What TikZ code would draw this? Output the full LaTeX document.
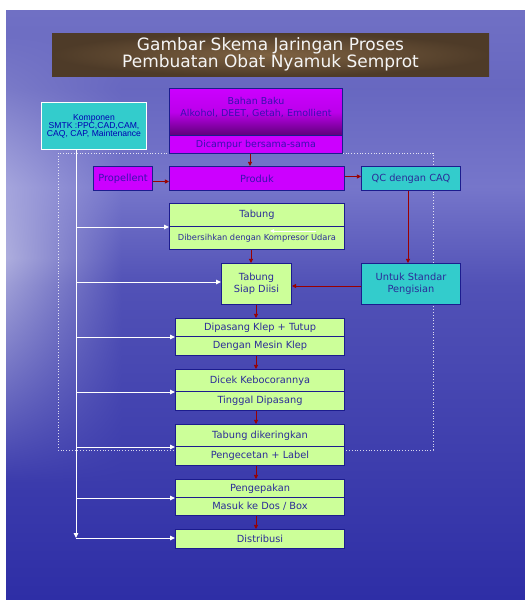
\documentclass[tikz,border=0pt]{standalone}
\usepackage{fontspec}
\setmainfont{DejaVu Sans}
\newfontfamily\arialf{Liberation Sans}
\usetikzlibrary{arrows.meta,calc}
\definecolor{brownA}{HTML}{7E6242}
\definecolor{brownB}{HTML}{4E3B28}
\definecolor{greenc}{HTML}{CCFF99}
\definecolor{magc}{HTML}{CC00FF}
\definecolor{magdark}{HTML}{5E0078}
\definecolor{cyanc}{HTML}{33CCCC}
\definecolor{bordc}{HTML}{1C1C8E}
\definecolor{txtc}{HTML}{2B2B98}
\definecolor{magtxt}{HTML}{3A10B0}
\definecolor{arrred}{HTML}{990000}
\pgfdeclarefunctionalshading{bgsh}{\pgfpoint{0bp}{0bp}}{\pgfpoint{100bp}{100bp}}{}{
  25 sub 50 div exch 25 sub 50 div exch
  1 index 4.5 mul 1 exch sub dup abs add 2 div
  1 index 0.58 sub abs 0.38 div 1 exch sub dup abs add 2 div
  mul 0.5 mul
  1 index 0.26 mul 0.18 add
  2 index 0.70 sub abs 6 mul 1 exch sub dup abs add 2 div 0.10 mul add
  dup 1 exch sub 2 index mul add
  2 index 0.12 mul 0.65 add
  3 index 0.70 sub abs 6 mul 1 exch sub dup abs add 2 div 0.06 mul add
  dup 1 exch sub 3 index mul add
  exch dup 3 2 roll
  6 3 roll pop pop pop
}
\begin{document}
\begin{tikzpicture}[x=1pt,y=-1pt,
  box/.style={draw=bordc, line width=1pt, text=txtc, inner sep=0pt, anchor=north west,
    font=\fontsize{9.8}{12}\selectfont, align=center},
  gbox/.style={box, fill=greenc},
  mbox/.style={box, fill=magc, text=magtxt},
  cbox/.style={box, fill=cyanc},
  rarr/.style={draw=arrred, line width=0.9pt, -{Triangle[width=4.2pt,length=4.2pt]}},
  warr/.style={draw=white, line width=1pt, -{Triangle[width=4.5pt,length=5pt]}}
]
\useasboundingbox (0,0) rectangle (525,600);
% background
\shade[shading=bgsh] (6,10) rectangle (525,600);
% title
\node[inner sep=0pt, minimum width=437pt, minimum height=43pt, inner color=brownA, outer color=brownB,
  text=white!92!gray, font=\fontsize{17}{16}\selectfont, align=center] (title) at (270.5,54.5)
  {Gambar Skema Jaringan Proses\\Pembuatan Obat Nyamuk Semprot};
% dotted frame
\draw[white, dotted, line width=0.8pt, opacity=0.8] (58,153) rectangle (433,450);
% komponen
\node[box, fill=cyanc, draw=white, text=blue!70!black, minimum width=105pt, minimum height=47pt,
  font=\arialf\fontsize{8.6}{8}\selectfont] (komp) at (41,102)
  {Komponen\\SMTK :PPC,CAD,CAM,\\CAQ, CAP, Maintenance};
% top process
\node[box, top color=magc, bottom color=magdark, middle color=magc!85!magdark, text=magtxt,
  minimum width=173pt, minimum height=47pt,
  label={[text=magtxt, font=\fontsize{9.5}{12}\selectfont, align=center, yshift=5pt]center:{Bahan Baku\\Alkohol, DEET, Getah, Emollient}}] (bahan) at (169,88) {};
\node[mbox, minimum width=173pt, minimum height=18pt, font=\fontsize{9.5}{12}\selectfont] (dic) at (169,135) {Dicampur bersama-sama};
\node[mbox, minimum width=59pt, minimum height=24pt] (prop) at (93,166) {Propellent};
\node[mbox, minimum width=175pt, minimum height=24pt] (prod) at (169,166) {Produk};
\node[cbox, minimum width=99pt, minimum height=24pt] (qc) at (361,166) {QC dengan CAQ};
\node[gbox, minimum width=175pt, minimum height=23pt] (tabA) at (169,203) {Tabung};
\node[gbox, minimum width=175pt, minimum height=23pt, font=\fontsize{8.3}{10}\selectfont] (tabB) at (169,226) {Dibersihkan dengan Kompresor Udara};
\node[gbox, minimum width=70pt, minimum height=41pt] (tsd) at (221,263) {Tabung\\Siap Diisi};
\node[cbox, minimum width=99pt, minimum height=41pt] (usp) at (361,263) {Untuk Standar\\Pengisian};
\node[gbox, minimum width=169pt, minimum height=18pt] (dipA) at (175,318) {Dipasang Klep + Tutup};
\node[gbox, minimum width=169pt, minimum height=19pt] (dipB) at (175,336) {Dengan Mesin Klep};
\node[gbox, minimum width=169pt, minimum height=22pt] (cekA) at (175,369) {Dicek Kebocorannya};
\node[gbox, minimum width=169pt, minimum height=19pt] (cekB) at (175,391) {Tinggal Dipasang};
\node[gbox, minimum width=169pt, minimum height=22pt] (kerA) at (175,424) {Tabung dikeringkan};
\node[gbox, minimum width=169pt, minimum height=19pt] (kerB) at (175,446) {Pengecetan + Label};
\node[gbox, minimum width=169pt, minimum height=18pt] (pekA) at (175,479) {Pengepakan};
\node[gbox, minimum width=169pt, minimum height=18pt] (pekB) at (175,497) {Masuk ke Dos / Box};
\node[gbox, minimum width=169pt, minimum height=19pt] (dist) at (175,529) {Distribusi};
% small white arrow inside Tabung box
\draw[draw=white, line width=0.7pt, -{Triangle[width=3.5pt,length=4pt]}] ([xshift=-29pt,yshift=-5pt]tabB.north east) -- ([xshift=-75pt,yshift=-5pt]tabB.north east);
% red arrows
\draw[rarr] ([xshift=-6pt]dic.south) -- ([xshift=-6pt]dic.south |- prod.north);
\draw[rarr] ([yshift=-3pt]prop.east) -- ([yshift=-3pt]prop.east -| prod.west);
\draw[rarr] ([yshift=2pt]prod.east) -- ([yshift=2pt]prod.east -| qc.west);
\draw[rarr] ([xshift=-3pt]qc.south) -- ([xshift=-3pt]qc.south |- usp.north);
\draw[rarr] ([yshift=-2pt]usp.west) -- ([yshift=-2pt]usp.west -| tsd.east);
\draw[rarr] ([xshift=-6pt]tabB.south) -- ([xshift=-6pt]tabB.south |- tsd.north);
\coordinate (mx) at (256,0);
\draw[rarr] (tsd.south -| mx) -- (dipA.north -| mx);
\draw[rarr] (dipB.south -| mx) -- (cekA.north -| mx);
\draw[rarr] (cekB.south -| mx) -- (kerA.north -| mx);
\draw[rarr] (kerB.south -| mx) -- (pekA.north -| mx);
\draw[rarr] (pekB.south -| mx) -- (dist.north -| mx);
% white spine
\coordinate (spt) at (76,149);
\coordinate (spb) at (76,538);
\draw[warr] (spt) -- (spb);
\draw[warr] (tabA.south west -| spt) -- (tabA.south west);
\draw[warr] ([yshift=2pt]tsd.west -| spt) -- ([yshift=2pt]tsd.west);
\draw[warr] (dipA.south west -| spt) -- (dipA.south west);
\draw[warr] (cekA.south west -| spt) -- (cekA.south west);
\draw[warr] (kerA.south west -| spt) -- (kerA.south west);
\draw[warr] (pekA.south west -| spt) -- (pekA.south west);
\draw[warr] (spb) -- (spb -| dist.west);
\end{tikzpicture}
\end{document}
